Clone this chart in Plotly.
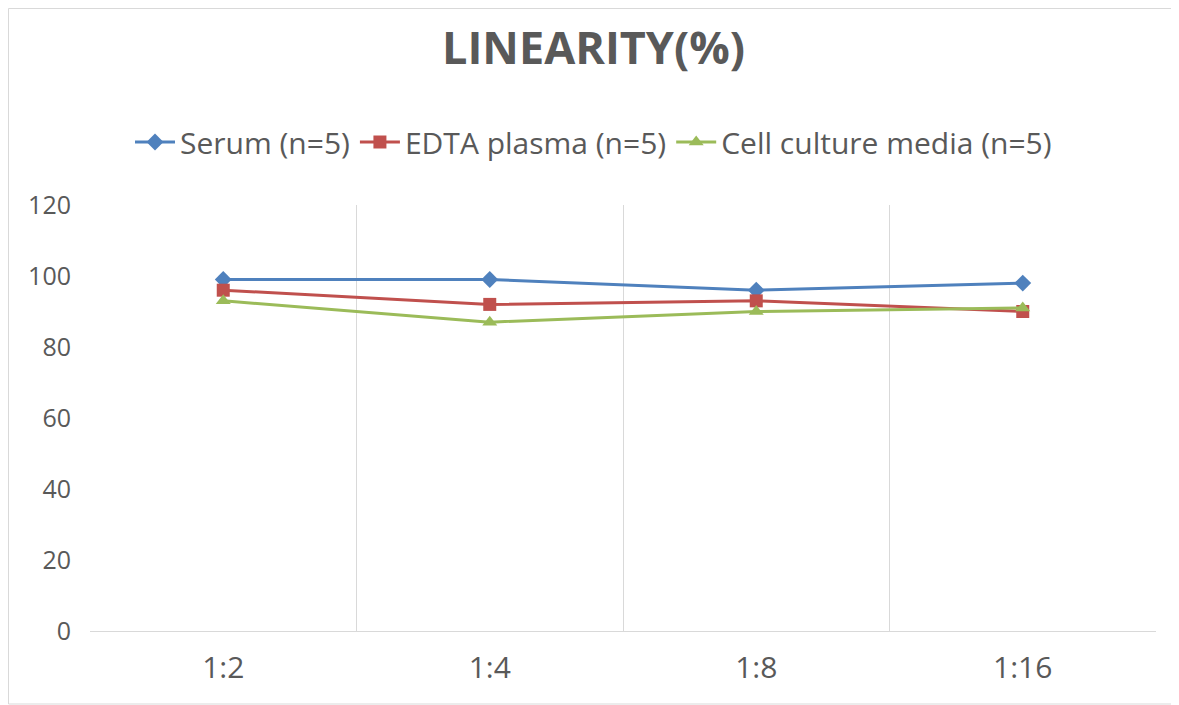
import plotly.graph_objects as go

# dilution steps and linearity values (%)
dilutions = ["1:2", "1:4", "1:8", "1:16"]
serum = [99, 99, 96, 98]
edta_plasma = [96, 92, 93, 90]
cell_culture = [93, 87, 90, 91]

series_names = ["Serum (n=5)", "EDTA plasma (n=5)", "Cell culture media (n=5)"]
colors = ["#4F81BD", "#C0504D", "#9BBB59"]
symbols = ["diamond", "square", "triangle-up"]

FONT = "Open Sans"
GREY = "#595959"

# page has an 8px body margin, so the figure is a bit smaller than the window
W, H = 1171, 697

fig = go.Figure()
for name, vals, col, sym in zip(series_names, [serum, edta_plasma, cell_culture], colors, symbols):
    fig.add_trace(go.Scatter(
        x=dilutions, y=vals, name=name, mode="lines+markers",
        line=dict(color=col, width=3),
        marker=dict(symbol=sym, size=13, color=col),
    ))

fig.update_layout(
    width=W, height=H,
    paper_bgcolor="white", plot_bgcolor="white",
    margin=dict(l=82, r=23, t=197, b=74),
    font=dict(family=FONT, color=GREY),
    title=dict(text="<b>LINEARITY(%)</b>", x=0.5, xref="container", y=1 - 40 / H,
               yref="container", yanchor="middle", xanchor="center",
               font=dict(size=45, color=GREY, family=FONT)),
    legend=dict(orientation="h", x=0.5, xanchor="center", xref="container",
                y=1 - 134 / H, yref="container", yanchor="middle",
                font=dict(size=30, color=GREY), itemwidth=40, traceorder="normal"),
    showlegend=True,
)
fig.update_xaxes(type="category", range=[-0.5, 3.5], tickson="boundaries",
                 showgrid=True, gridcolor="#d9d9d9", gridwidth=1,
                 showline=True, linecolor="#d9d9d9", linewidth=1,
                 ticks="", tickfont=dict(size=30, color=GREY), ticklabelstandoff=10)
fig.update_yaxes(range=[0, 120], dtick=20, showgrid=False, zeroline=False,
                 showline=False, ticks="", tickfont=dict(size=25, color=GREY),
                 ticklabelstandoff=18)

# thin border round the whole chart
fig.add_shape(type="rect", xref="paper", yref="paper",
              x0=(0.5 - 82) / 1066, x1=(1170 - 82) / 1066,
              y0=(623 - 696) / 426, y1=(623 - 0.5) / 426,
              line=dict(color="#d9d9d9", width=1), layer="below")

fig.write_html("out.html")
